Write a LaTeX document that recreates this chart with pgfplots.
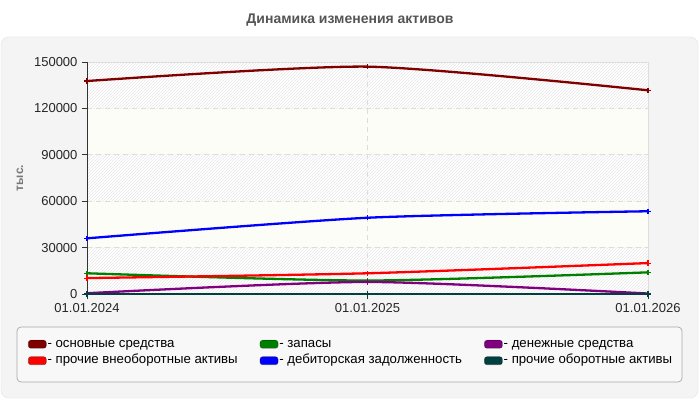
\documentclass[border=0pt]{standalone}
\usepackage{pgfplots}
\pgfplotsset{compat=1.18}
\usepackage{fontspec}
\setmainfont{Liberation Sans}
\usetikzlibrary{patterns,calc}
\definecolor{s1}{HTML}{800000}
\definecolor{s2}{HTML}{FF0000}
\definecolor{s3}{HTML}{008000}
\definecolor{s4}{HTML}{0000FF}
\definecolor{s5}{HTML}{800080}
\definecolor{s6}{HTML}{004040}
\definecolor{panel}{HTML}{F4F4F4}
\definecolor{panelborder}{HTML}{E2E2E2}
\definecolor{legbox}{HTML}{F8F8F8}
\definecolor{legborder}{HTML}{A8A8A8}
\definecolor{gridc}{HTML}{DDDDDD}
\definecolor{bandc}{HTML}{FDFDF7}
\definecolor{axc}{HTML}{333333}
\definecolor{titlec}{HTML}{555555}
\definecolor{ylabc}{HTML}{777777}
\begin{document}
\begin{tikzpicture}[x=1pt,y=1pt]
\fill[white] (0,0) rectangle (700,400);
\filldraw[fill=panel,draw=panelborder,rounded corners=8pt] (1,2) rectangle (698,363);
\filldraw[fill=legbox,draw=legborder,rounded corners=4pt,line width=0.7pt] (17,18) rectangle (682,73);
\node[font=\fontsize{14}{16}\selectfont\bfseries,text=titlec] at (350,380) {Динамика изменения активов};
\begin{axis}[
  at={(87pt,106pt)}, anchor=south west,
  scale only axis, width=561pt, height=232pt,
  xmin=0, xmax=2, ymin=0, ymax=150000,
  xtick={0,1,2}, xticklabels={01.01.2024,01.01.2025,01.01.2026},
  ytick={0,30000,60000,90000,120000,150000},
  yticklabels={0,30000,60000,90000,120000,150000},
  scaled y ticks=false,
  tick align=outside, major tick length=5pt,
  xtick pos=bottom, ytick pos=left,
  tick style={axc,line width=0.8pt},
  axis line style={gridc,line width=0.8pt},
  xmajorgrids, ymajorgrids,
  grid style={gridc,dash pattern=on 5pt off 4pt,line width=0.7pt},
  ticklabel style={font=\fontsize{13}{15}\selectfont,text=black!85},
  /pgf/number format/assume math mode=true,
  xticklabel style={yshift=-1pt},
  yticklabel style={xshift=-1pt},
  axis background/.style={fill=white, path picture={
    \coordinate (sw) at (path picture bounding box.south west);
    \coordinate (ne) at (path picture bounding box.north east);
    \coordinate (nw) at (path picture bounding box.north west);
    \coordinate (se) at (path picture bounding box.south east);
    \fill[bandc] ($(sw)!0.2!(nw)$) rectangle ($(se)!0.4!(ne)$);
    \fill[bandc] ($(sw)!0.6!(nw)$) rectangle ($(se)!0.8!(ne)$);
    \fill[pattern=north east lines,pattern color=black!9] (sw) rectangle ($(se)!0.2!(ne)$);
    \fill[pattern=north east lines,pattern color=black!9] ($(sw)!0.4!(nw)$) rectangle ($(se)!0.6!(ne)$);
    \fill[pattern=north east lines,pattern color=black!9] ($(sw)!0.8!(nw)$) rectangle (ne);
  }},
  ylabel={тыс.},
  ylabel style={font=\fontsize{12}{14}\selectfont\bfseries,text=ylabc,at={(axis description cs:-0.1194,0.5)},anchor=center},
  legend columns=3,
  legend cell align=left,
  legend style={draw=none,fill=none,at={(axis description cs:-0.1052,-0.1853)},anchor=north west,
    inner sep=0pt,outer sep=0pt,
    font=\fontsize{13.2}{15}\selectfont,
    nodes={inner sep=1pt,text height=9.5pt,text depth=3pt},
    row sep=2pt,
    /tikz/every even column/.append style={column sep=21pt}},
  legend image code/.code={\path[#1,fill,draw=black,draw opacity=0.35,line width=0.6pt,rounded corners=2.5pt] (0pt,-4pt) rectangle (18pt,4pt);},
  every axis plot/.append style={line width=2.3pt, smooth, tension=0.4, mark=+, mark size=2.6pt, mark options={line width=1.1pt}},
]
\draw[axc,line width=0.8pt] (rel axis cs:0,1) -- (rel axis cs:0,0) -- (rel axis cs:1,0);
\addplot[s1] coordinates {(0,137700) (1,147000) (2,131700)};
\addlegendentry{- основные средства}
\addplot[s3] coordinates {(0,13400) (1,8700) (2,14000)};
\addlegendentry{- запасы}
\addplot[s5] coordinates {(0,500) (1,7800) (2,300)};
\addlegendentry{- денежные средства}
\addplot[s2] coordinates {(0,10300) (1,13400) (2,20000)};
\addlegendentry{- прочие внеоборотные активы}
\addplot[s4] coordinates {(0,36000) (1,49300) (2,53500)};
\addlegendentry{- дебиторская задолженность}
\addplot[s6] coordinates {(0,0) (1,0) (2,0)};
\addlegendentry{- прочие оборотные активы}
\end{axis}
\end{tikzpicture}
\end{document}
